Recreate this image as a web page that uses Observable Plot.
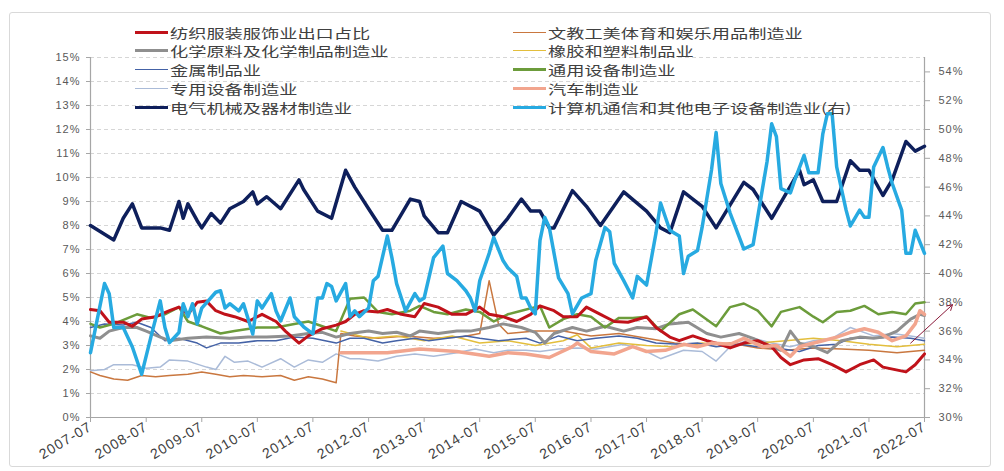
<!DOCTYPE html>
<html><head><meta charset="utf-8">
<script src="https://cdn.jsdelivr.net/npm/d3@7"></script>
<script src="https://cdn.jsdelivr.net/npm/@observablehq/plot@0.6"></script>
<style>
body{margin:0;background:#fff;}
#wrap{position:relative;width:1004px;height:471px;overflow:hidden;}
#frame{position:absolute;left:9px;top:12px;width:980px;height:453px;border:1px solid #d9d9d9;border-radius:3px;pointer-events:none;}
.lg{position:absolute;height:18px;display:flex;align-items:center;font-family:"Noto Sans CJK SC","Noto Sans",sans-serif;font-size:13px;color:#404040;white-space:nowrap;}
.lg .sw{width:33px;margin-right:2px;}
.lg .tx{display:inline-block;transform:scaleX(1.4);transform-origin:left center;}
</style></head>
<body><div id="wrap"><div id="frame"></div></div>
<script>
// ---- data (percent shares) ----
const seriesNames = ["纺织服装服饰业出口占比","文教工美体育和娱乐用品制造业","化学原料及化学制品制造业","橡胶和塑料制品业","金属制品业","通用设备制造业","专用设备制造业","汽车制造业","电气机械及器材制造业","计算机通信和其他电子设备制造业(右)"];
const seriesColors = ["#c0121a","#c9773f","#8f8f8f","#e3be3c","#4462a6","#6c9c3b","#aabbd8","#f2a58e","#0e1f5b","#27aae1"];
const seriesWidths = [3,1.5,3,1.5,1.5,2.5,1.5,3.5,3.5,3.5];
const leftTicks = [0,1,2,3,4,5,6,7,8,9,10,11,12,13,14,15];
const rightTicks = [30,32,34,36,38,40,42,44,46,48,50,52,54];
const xTickLabels = ["2007-07","2008-07","2009-07","2010-07","2011-07","2012-07","2013-07","2014-07","2015-07","2016-07","2017-07","2018-07","2019-07","2020-07","2021-07","2022-07"];

const textile = [["2007-07",4.5],["2007-09",4.45],["2007-11",3.97],["2008-02",3.97],["2008-04",3.8],["2008-06",4.1],["2008-09",4.2],["2008-12",4.45],["2009-02",4.6],["2009-04",4.3],["2009-06",4.8],["2009-08",4.85],["2009-10",4.45],["2009-12",4.3],["2010-02",4.2],["2010-05",4.0],["2010-08",4.3],["2010-11",4.0],["2011-01",3.6],["2011-04",3.1],["2011-06",3.4],["2011-09",3.7],["2011-12",3.85],["2012-02",4.0],["2012-04",4.3],["2012-06",4.45],["2012-09",4.4],["2012-11",4.5],["2013-02",4.3],["2013-05",4.2],["2013-07",4.75],["2013-10",4.6],["2014-01",4.3],["2014-04",4.3],["2014-07",4.6],["2014-09",4.3],["2014-12",4.2],["2015-03",4.0],["2015-06",4.3],["2015-08",4.65],["2015-11",4.45],["2016-01",4.2],["2016-04",4.2],["2016-06",4.6],["2016-09",4.3],["2016-12",4.0],["2017-03",3.97],["2017-07",4.2],["2017-09",3.75],["2017-12",3.35],["2018-02",3.2],["2018-05",3.4],["2018-08",3.2],["2018-10",3.1],["2019-01",2.9],["2019-04",3.1],["2019-07",3.2],["2019-10",2.95],["2019-12",2.5],["2020-02",2.2],["2020-05",2.4],["2020-08",2.45],["2020-11",2.2],["2021-02",1.9],["2021-05",2.2],["2021-08",2.4],["2021-10",2.1],["2022-03",1.9],["2022-05",2.2],["2022-07",2.65]];
const culture = [["2007-07",1.9],["2007-09",1.75],["2007-12",1.6],["2008-03",1.55],["2008-06",1.75],["2008-09",1.7],["2008-12",1.75],["2009-04",1.8],["2009-07",1.9],["2009-10",1.8],["2010-01",1.7],["2010-04",1.75],["2010-08",1.7],["2010-12",1.75],["2011-03",1.55],["2011-06",1.7],["2011-09",1.6],["2011-12",1.45],["2012-01",3.5],["2012-04",3.4],["2012-09",3.3],["2013-03",3.4],["2013-09",3.3],["2014-03",3.35],["2014-07",3.5],["2014-09",5.7],["2014-11",3.9],["2015-01",3.5],["2015-07",3.6],["2016-01",3.6],["2016-07",3.4],["2017-01",3.5],["2017-07",3.3],["2018-01",3.1],["2018-07",3.0],["2019-01",3.1],["2019-07",2.9],["2020-01",2.8],["2020-07",2.9],["2021-01",2.85],["2021-07",2.8],["2022-01",2.7],["2022-07",2.8]];
const chemical = [["2007-07",3.4],["2007-09",3.3],["2007-11",3.6],["2008-02",3.75],["2008-05",3.75],["2008-07",3.6],["2008-10",3.35],["2008-12",3.2],["2009-04",3.3],["2009-08",3.35],["2010-01",3.3],["2010-05",3.35],["2010-09",3.35],["2011-02",3.4],["2011-06",3.5],["2011-09",3.55],["2011-12",3.35],["2012-03",3.5],["2012-07",3.6],["2012-10",3.5],["2013-01",3.55],["2013-04",3.4],["2013-06",3.6],["2013-10",3.5],["2014-02",3.6],["2014-05",3.6],["2014-09",3.75],["2014-12",3.9],["2015-04",3.75],["2015-07",3.55],["2015-09",3.1],["2015-11",3.5],["2016-03",3.75],["2016-06",3.6],["2016-10",3.8],["2017-02",3.6],["2017-05",3.75],["2017-09",3.7],["2017-12",3.9],["2018-04",3.97],["2018-08",3.5],["2018-11",3.35],["2019-03",3.5],["2019-06",3.3],["2019-10",2.95],["2019-12",2.8],["2020-02",3.6],["2020-04",3.1],["2020-07",2.95],["2020-10",2.7],["2021-01",3.2],["2021-05",3.35],["2021-08",3.3],["2021-10",3.35],["2022-01",3.6],["2022-04",4.1],["2022-06",4.3],["2022-07",4.25]];
const rubber = [["2012-01",3.6],["2012-07",3.3],["2013-01",3.4],["2013-07",3.2],["2014-01",3.4],["2014-07",3.1],["2015-01",3.2],["2015-07",3.0],["2016-01",3.2],["2016-04",3.45],["2016-07",2.9],["2017-01",3.1],["2017-07",3.0],["2018-01",2.95],["2018-07",3.1],["2019-01",3.0],["2019-07",3.1],["2020-01",3.2],["2020-07",3.3],["2021-01",3.2],["2021-07",3.05],["2022-01",2.95],["2022-07",3.05]];
const metal = [["2007-07",3.75],["2007-10",3.9],["2008-02",3.85],["2008-05",3.97],["2008-08",3.75],["2008-11",3.2],["2009-02",3.3],["2009-06",3.1],["2009-08",2.9],["2009-11",3.1],["2010-03",3.1],["2010-07",3.2],["2010-11",3.2],["2011-03",3.35],["2011-07",3.3],["2011-12",3.1],["2012-03",3.3],["2012-06",3.3],["2012-10",3.1],["2013-01",3.2],["2013-05",3.3],["2013-08",3.2],["2013-12",3.3],["2014-04",3.4],["2014-07",3.3],["2014-11",3.2],["2015-05",3.3],["2015-08",3.1],["2015-12",3.4],["2016-04",3.2],["2016-08",3.3],["2017-01",3.4],["2017-05",3.3],["2017-09",3.1],["2018-02",3.05],["2018-06",3.1],["2018-10",2.95],["2019-03",3.05],["2019-07",2.95],["2019-11",2.9],["2020-04",2.75],["2020-08",3.0],["2020-12",3.05],["2021-03",3.3],["2021-08",3.3],["2021-12",3.35],["2022-04",3.3],["2022-07",3.2]];
const general = [["2007-07",3.9],["2007-09",3.75],["2007-12",3.9],["2008-05",4.3],["2008-08",4.15],["2008-11",4.3],["2009-02",4.6],["2009-04",4.0],["2009-07",3.8],["2009-11",3.5],["2010-02",3.6],["2010-07",3.75],["2010-11",3.75],["2011-03",3.9],["2011-06",4.0],["2011-09",3.8],["2011-12",3.6],["2012-03",4.95],["2012-06",5.0],["2012-09",4.4],["2012-12",4.3],["2013-04",4.45],["2013-06",4.65],["2013-09",4.4],["2013-12",4.3],["2014-04",4.5],["2014-07",4.4],["2014-10",4.0],["2015-01",4.3],["2015-04",4.45],["2015-08",4.65],["2015-10",3.75],["2016-01",4.1],["2016-04",4.3],["2016-07",4.2],["2016-10",3.75],["2017-01",4.15],["2017-04",4.15],["2017-07",4.2],["2017-10",3.6],["2018-02",4.3],["2018-05",4.5],["2018-10",3.8],["2019-01",4.6],["2019-04",4.75],["2019-07",4.45],["2019-10",3.8],["2019-12",4.4],["2020-04",4.6],["2020-07",4.2],["2020-09",3.97],["2020-12",4.4],["2021-03",4.45],["2021-06",4.65],["2021-09",4.3],["2021-12",4.4],["2022-03",4.3],["2022-05",4.75],["2022-07",4.8]];
const special = [["2007-07",1.95],["2007-10",2.0],["2007-12",2.2],["2008-04",2.2],["2008-07",2.05],["2008-10",2.1],["2008-12",2.4],["2009-04",2.35],["2009-08",2.1],["2009-10",2.0],["2009-12",2.55],["2010-02",2.3],["2010-05",2.35],["2010-08",2.1],["2010-12",2.45],["2011-03",2.1],["2011-06",2.4],["2011-09",2.3],["2011-12",2.65],["2012-03",2.45],["2012-05",2.45],["2012-09",2.35],["2013-01",2.55],["2013-05",2.65],["2013-09",2.55],["2014-02",2.7],["2014-06",2.85],["2014-10",2.7],["2015-01",2.8],["2015-05",2.8],["2015-08",2.75],["2015-12",2.85],["2016-04",2.9],["2016-08",2.85],["2017-02",3.05],["2017-07",2.75],["2017-10",2.45],["2018-03",2.8],["2018-07",2.75],["2018-10",2.35],["2019-01",2.95],["2019-06",3.3],["2019-10",3.1],["2020-02",2.95],["2020-07",3.2],["2020-11",3.3],["2021-03",3.75],["2021-08",3.4],["2021-12",3.5],["2022-04",3.4],["2022-07",3.3]];
const auto = [["2012-01",2.7],["2012-11",2.7],["2013-06",2.85],["2014-02",2.75],["2014-09",2.55],["2015-01",2.7],["2015-05",2.65],["2015-10",2.5],["2016-03",2.95],["2016-04",3.1],["2016-07",2.75],["2016-12",2.65],["2017-04",2.95],["2017-07",2.75],["2017-11",2.8],["2018-03",3.05],["2018-06",2.95],["2018-09",3.1],["2019-01",3.05],["2019-04",3.3],["2019-08",2.95],["2019-11",3.0],["2020-02",2.55],["2020-04",2.95],["2020-06",3.05],["2020-09",3.2],["2020-12",3.35],["2021-03",3.55],["2021-06",3.7],["2021-09",3.55],["2021-12",3.2],["2022-03",3.4],["2022-05",3.9],["2022-06",4.45],["2022-07",4.3]];
const electric = [["2007-07",8.0],["2007-12",7.4],["2008-02",8.3],["2008-04",8.9],["2008-06",7.9],["2008-10",7.9],["2008-12",7.8],["2009-02",9.0],["2009-03",8.3],["2009-04",8.9],["2009-06",8.2],["2009-07",7.9],["2009-09",8.5],["2009-11",8.1],["2010-01",8.7],["2010-04",9.0],["2010-06",9.4],["2010-07",8.9],["2010-09",9.2],["2010-12",8.7],["2011-04",9.9],["2011-05",9.5],["2011-08",8.6],["2011-11",8.3],["2012-02",10.3],["2012-04",9.6],["2012-07",8.7],["2012-10",7.8],["2012-12",7.8],["2013-04",9.1],["2013-06",9.0],["2013-07",8.4],["2013-10",7.7],["2013-12",7.7],["2014-03",9.0],["2014-07",8.6],["2014-10",7.6],["2015-01",8.3],["2015-04",9.1],["2015-06",8.6],["2015-08",8.6],["2015-10",7.9],["2015-11",7.9],["2016-03",9.45],["2016-06",8.8],["2016-09",8.0],["2017-02",9.4],["2017-07",8.6],["2017-10",7.9],["2017-12",7.7],["2018-03",9.4],["2018-07",8.8],["2018-10",7.9],["2019-04",9.8],["2019-06",9.5],["2019-10",8.3],["2020-04",10.3],["2020-05",9.7],["2020-07",9.9],["2020-09",9.0],["2020-12",9.0],["2021-03",10.7],["2021-05",10.3],["2021-07",10.3],["2021-10",9.25],["2021-12",9.9],["2022-03",11.5],["2022-05",11.1],["2022-07",11.3]];
const computer = [["2007-07",34.5],["2007-10",39.3],["2007-11",38.6],["2007-12",36.25],["2008-02",36.25],["2008-04",34.9],["2008-06",33.0],["2008-08",35.6],["2008-10",38.1],["2008-11",36.25],["2008-12",35.2],["2009-02",35.9],["2009-03",37.9],["2009-04",37.0],["2009-05",37.9],["2009-06",36.5],["2009-07",37.6],["2009-10",38.7],["2009-11",38.8],["2009-12",37.6],["2010-01",37.9],["2010-03",37.4],["2010-04",37.9],["2010-06",35.8],["2010-07",38.1],["2010-08",37.6],["2010-10",38.6],["2010-11",37.4],["2010-12",36.7],["2011-02",38.3],["2011-03",37.0],["2011-05",36.3],["2011-07",35.8],["2011-08",38.3],["2011-09",38.3],["2011-10",39.3],["2011-11",39.1],["2011-12",38.1],["2012-02",39.3],["2012-03",37.0],["2012-04",37.4],["2012-05",37.0],["2012-07",37.6],["2012-08",39.5],["2012-09",39.8],["2012-11",42.6],["2012-12",41.1],["2013-01",39.3],["2013-03",37.4],["2013-05",38.6],["2013-06",38.1],["2013-07",38.3],["2013-09",41.1],["2013-11",41.9],["2013-12",40.0],["2014-02",39.5],["2014-04",38.8],["2014-05",38.3],["2014-06",37.4],["2014-07",39.5],["2014-09",41.4],["2014-10",42.5],["2014-12",40.9],["2015-01",40.4],["2015-03",39.8],["2015-04",38.3],["2015-05",38.3],["2015-06",37.6],["2015-07",37.2],["2015-08",42.3],["2015-09",43.9],["2015-10",43.2],["2015-12",39.7],["2016-02",38.6],["2016-03",37.2],["2016-05",38.3],["2016-07",38.6],["2016-08",40.9],["2016-10",43.2],["2016-11",42.9],["2016-12",40.7],["2017-02",39.5],["2017-04",38.3],["2017-05",39.8],["2017-07",39.2],["2017-09",42.8],["2017-10",44.9],["2017-12",43.0],["2018-01",42.8],["2018-02",42.6],["2018-03",40.0],["2018-04",41.2],["2018-06",41.6],["2018-07",43.2],["2018-09",47.2],["2018-10",49.8],["2018-11",46.25],["2019-01",44.2],["2019-04",41.7],["2019-06",42.0],["2019-07",43.9],["2019-09",47.8],["2019-10",50.4],["2019-11",49.5],["2019-12",45.9],["2020-02",45.6],["2020-03",46.5],["2020-05",48.2],["2020-06",47.0],["2020-08",47.0],["2020-09",49.7],["2020-10",51.1],["2020-11",51.1],["2020-12",47.4],["2021-02",44.4],["2021-03",43.3],["2021-05",44.4],["2021-06",43.9],["2021-07",43.9],["2021-08",47.4],["2021-10",48.75],["2021-11",47.4],["2021-12",46.25],["2022-02",44.4],["2022-03",41.4],["2022-04",41.4],["2022-05",43.0],["2022-07",41.4]];
const annotationArrow = [{from: "2022-04", fromValue: 3.1, to: "2023-01", toValue: 4.7}];

// ---- build ----
const parse = d3.utcParse("%Y-%m");
const leftMin = 0, leftMax = 15, rightMin = 30, rightMax = 55;
const toLeft = v => (v - rightMin) * (leftMax - leftMin) / (rightMax - rightMin) + leftMin;
const fromLeft = v => (v - leftMin) * (rightMax - rightMin) / (leftMax - leftMin) + rightMin;
const allSeries = [textile, culture, chemical, rubber, metal, general, special, auto, electric, computer];
const rightAxisIndex = 9;
const drawOrder = [6,1,3,4,2,5,0,7,8,9];

const font = "'Liberation Sans', Arial, sans-serif";
const lineMarks = drawOrder.map(i => Plot.line(allSeries[i], {
  x: d => parse(d[0]),
  y: d => i === rightAxisIndex ? toLeft(d[1]) : d[1],
  stroke: seriesColors[i], strokeWidth: seriesWidths[i],
  strokeLinejoin: "round", strokeLinecap: "round"
}));

const xDomain = [parse(xTickLabels[0]), parse(xTickLabels[xTickLabels.length-1])];
const chart = Plot.plot({
  width: 1004, height: 471,
  marginLeft: 90, marginRight: 80, marginTop: 57, marginBottom: 54,
  style: {fontFamily: font, fontSize: "11px", color: "#595959", background: "transparent", letterSpacing: "1px"},
  x: {type: "utc", domain: xDomain},
  y: {domain: [leftMin, leftMax]},
  marks: [
    Plot.gridY(leftTicks.slice(1), {stroke: "#d6d6d6", strokeOpacity: 1, strokeDasharray: "4,3"}),
    Plot.axisY(leftTicks, {anchor: "left", tickFormat: d => d + "%", tickSize: 4, tickPadding: 6, stroke: "#a6a6a6", fill: "#595959"}),
    Plot.axisY(rightTicks.map(toLeft), {anchor: "right", tickFormat: d => Math.round(fromLeft(d)) + "%", tickSize: 5, tickPadding: 9, stroke: "#a6a6a6", fill: "#595959"}),
    Plot.axisX(xTickLabels.map(parse), {tickFormat: d3.utcFormat("%Y-%m"), tickRotate: -31, tickSize: 5, tickPadding: 3, fontSize: 14, stroke: "#a6a6a6", fill: "#404040", letterSpacing: "2.3px"}),
    Plot.ruleX([xDomain[0]], {stroke: "#a6a6a6", strokeWidth: 1.2}),
    Plot.ruleX([xDomain[1]], {stroke: "#a6a6a6", strokeWidth: 1.2}),
    Plot.ruleY([leftMin], {stroke: "#a6a6a6", strokeWidth: 1.2}),
    ...lineMarks,
    Plot.arrow(annotationArrow, {x1: d => parse(d.from), y1: "fromValue", x2: d => parse(d.to), y2: "toValue", stroke: "#8b1a3a", strokeWidth: 1, headLength: 9, clip: false})
  ]
});
const wrap = document.getElementById("wrap");
chart.style.position = "absolute"; chart.style.left = "0"; chart.style.top = "0";
wrap.insertBefore(chart, wrap.firstChild);

// ---- legend (overlaid, two columns) ----
const legendCols = [[0,2,4,6,8],[1,3,5,7,9]];
const colX = [135, 513];
const rowY = [23, 41, 60, 79, 98];
legendCols.forEach((col, c) => col.forEach((si, r) => {
  const item = document.createElement("div");
  item.className = "lg";
  item.style.left = colX[c] + "px";
  item.style.top = rowY[r] + "px";
  const sw = document.createElement("span");
  sw.className = "sw";
  sw.style.borderTop = seriesWidths[si] >= 2.5 ? `3px solid ${seriesColors[si]}` : `1.5px solid ${seriesColors[si]}`;
  const tx = document.createElement("span");
  tx.className = "tx";
  tx.textContent = seriesNames[si];
  item.appendChild(sw); item.appendChild(tx);
  wrap.appendChild(item);
}));
</script></body></html>
